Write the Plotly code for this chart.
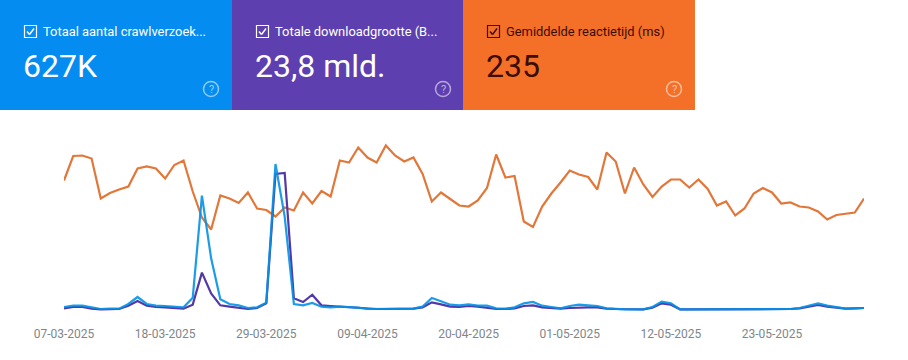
import pandas as pd
import plotly.graph_objects as go

dates = pd.date_range("2025-03-07", periods=88, freq="D")
tick_labels = ["07-03-2025", "18-03-2025", "29-03-2025", "09-04-2025", "20-04-2025",
               "01-05-2025", "12-05-2025", "23-05-2025"]
response_ms = [259, 308, 309, 303, 223, 234, 241, 247, 283, 287, 283, 263, 290, 299, 237, 185, 161, 229, 223, 214,
               235, 203, 200, 187, 205, 199, 235, 213, 238, 227, 299, 295, 325, 305, 295, 329, 309, 297, 305, 272,
               217, 235, 222, 209, 207, 219, 244, 311, 265, 268, 177, 166, 207, 233, 255, 279, 271, 266, 241, 315,
               297, 233, 285, 251, 226, 247, 261, 261, 245, 261, 242, 209, 217, 189, 203, 233, 244, 235, 213, 215,
               207, 205, 197, 181, 190, 193, 195, 223]
requests = [2700, 3900, 3900, 2400, 900, 1200, 1200, 5400, 11700, 5400, 3900, 3600, 2700, 2400, 11100, 102900, 46500,
            9600, 5400, 4200, 1800, 2400, 6600, 131400, 84000, 5400, 4200, 6300, 3000, 2400, 3000, 2700, 2100, 900,
            900, 900, 900, 900, 1200, 3000, 10800, 7800, 4800, 4200, 5100, 3900, 3900, 1500, 1200, 2400, 6000, 7200,
            3900, 2700, 1500, 3600, 4800, 4200, 3600, 1500, 900, 600, 600, 600, 2700, 7500, 6000, 600, 600, 600, 600,
            600, 600, 600, 600, 600, 600, 600, 600, 900, 1800, 3600, 6000, 3900, 2400, 1200, 1500, 1800]
download_mb = [75, 135, 135, 60, 30, 30, 45, 195, 405, 195, 135, 120, 75, 60, 240, 1680, 750, 210, 150, 105, 45, 90,
               300, 6120, 6165, 525, 360, 690, 210, 180, 150, 135, 105, 45, 45, 45, 45, 45, 60, 120, 345, 255, 150,
               135, 180, 150, 90, 45, 45, 75, 180, 210, 120, 90, 60, 90, 120, 120, 120, 60, 45, 30, 30, 30, 105, 300,
               240, 30, 30, 30, 30, 30, 30, 30, 30, 30, 30, 30, 30, 45, 75, 150, 225, 150, 90, 60, 75, 90]

W, H = 908, 360
def px(x): return x / W
def py(y): return 1 - y / H

fig = go.Figure()
fig.add_trace(go.Scatter(x=dates, y=response_ms, yaxis="y", mode="lines", cliponaxis=False,
                         line=dict(color="#e2773a", width=2.2)))
fig.add_trace(go.Scatter(x=dates, y=download_mb, yaxis="y2", mode="lines", cliponaxis=False,
                         line=dict(color="#5338a8", width=2.2)))
fig.add_trace(go.Scatter(x=dates, y=requests, yaxis="y3", mode="lines", cliponaxis=False,
                         line=dict(color="rgba(3,145,229,0.9)", width=2.2)))

cards = [
    (0, 232, "#058cf0", "#ffffff", "Totaal aantal crawlverzoek...", "627K"),
    (232, 463, "#5e3fb0", "#ffffff", "Totale downloadgrootte (B...", "23,8 mld."),
    (463, 695, "#f46f27", "#3a0d00", "Gemiddelde reactietijd (ms)", "235"),
]
shapes, annotations = [], []
for x0, x1, bg, fg, title, value in cards:
    shapes.append(dict(type="rect", xref="paper", yref="paper", x0=px(x0), x1=px(x1), y0=py(110), y1=py(0),
                       fillcolor=bg, line_width=0, layer="below"))
    bx = x0 + 24.5
    shapes.append(dict(type="rect", xref="paper", yref="paper", x0=px(bx), x1=px(bx + 12), y0=py(37.5), y1=py(25.5),
                       line=dict(color=fg, width=1.2), fillcolor="rgba(0,0,0,0)"))
    shapes.append(dict(type="line", xref="paper", yref="paper", x0=px(bx + 2.5), y0=py(31.5), x1=px(bx + 5), y1=py(34.5),
                       line=dict(color=fg, width=1.4)))
    shapes.append(dict(type="line", xref="paper", yref="paper", x0=px(bx + 5), y0=py(34.5), x1=px(bx + 9.5), y1=py(28.5),
                       line=dict(color=fg, width=1.4)))
    annotations.append(dict(xref="paper", yref="paper", x=px(x0 + 41), y=py(31), text=title, showarrow=False,
                            xanchor="left", yanchor="middle", font=dict(family="Roboto", size=12.9, color=fg)))
    annotations.append(dict(xref="paper", yref="paper", x=px(x0 + 21), y=py(66), text=value, showarrow=False,
                            xanchor="left", yanchor="middle", font=dict(family="Roboto", size=32, color=fg)))
    cx = x0 + 211
    shapes.append(dict(type="circle", xref="paper", yref="paper", x0=px(cx - 7.5), x1=px(cx + 7.5), y0=py(96.5), y1=py(81.5),
                       line=dict(color="rgba(255,255,255,0.55)", width=1.5), fillcolor="rgba(0,0,0,0)"))
    annotations.append(dict(xref="paper", yref="paper", x=px(cx), y=py(89), text="?", showarrow=False,
                            xanchor="center", yanchor="middle",
                            font=dict(family="Roboto", size=11, color="rgba(255,255,255,0.6)")))

hidden = dict(visible=False, showgrid=False, zeroline=False)
dom = [py(315), py(125)]
fig.update_layout(
    width=W, height=H, margin=dict(l=0, r=0, t=0, b=0, pad=0, autoexpand=False), autosize=False, showlegend=False,
    paper_bgcolor="#ffffff", plot_bgcolor="rgba(0,0,0,0)", shapes=shapes, annotations=annotations,
    xaxis=dict(domain=[px(64), px(864)], range=[dates[0], dates[-1]], type="date",
               tickvals=list(dates[::11])[:len(tick_labels)], ticktext=tick_labels, showgrid=False, zeroline=False,
               showline=False, ticks="outside", ticklen=8, tickcolor="rgba(0,0,0,0)", anchor="y",
               tickfont=dict(family="Roboto", size=12, color="#80868b")),
    yaxis=dict(domain=dom, range=[-10, 370], **hidden),
    yaxis2=dict(domain=dom, range=[-225, 8325], overlaying="y", **hidden),
    yaxis3=dict(domain=dom, range=[-4500, 166500], overlaying="y", **hidden),
)
fig.write_html("out.html", config=dict(displayModeBar=False),
               post_script="document.body.style.margin='0';document.body.style.overflow='hidden';")
